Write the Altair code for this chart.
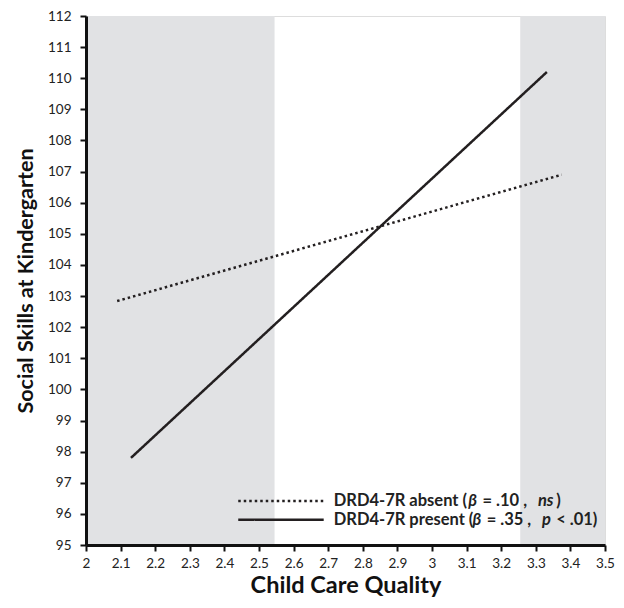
import altair as alt
import pandas as pd

# Data
groups = ["DRD4-7R absent", "DRD4-7R present"]
x_start = [2.09, 2.13]
x_end = [3.375, 3.332]
y_start = [102.84, 97.8]
y_end = [106.9, 110.2]

shade_from = [2.0, 3.255]
shade_to = [2.545, 3.5]

x_ticks = [2.0, 2.1, 2.2, 2.3, 2.4, 2.5, 2.6, 2.7, 2.8, 2.9, 3.0, 3.1, 3.2, 3.3, 3.4, 3.5]
y_ticks = list(range(95, 113))

# legend (drawn inside the plot, bottom right)
legend_y = [96.41, 95.81]
legend_x1 = [2.44, 2.44]
legend_x2 = [2.687, 2.687]

# legend text pieces: (row, text, x position in data units, italic)
seg_row = [0, 0, 0, 0, 0, 1, 1, 1, 1, 1]
seg_text = ["DRD4-7R absent (", "β", "= .10 ,", "ns", ")",
            "DRD4-7R present (", "β", "= .35 ,", "p", "< .01)"]
seg_x = [2.716, 3.105, 3.146, 3.306, 3.359,
         2.716, 3.117, 3.158, 3.318, 3.359]
seg_italic = [False, True, False, True, False,
              False, True, False, True, False]

W, H = 519, 529
FONT = "Lato"
INK = "#231f20"
LEG_FS = 16.5

lines = pd.DataFrame({
    "group": groups * 2,
    "x": x_start + x_end,
    "y": y_start + y_end,
    "order": [0, 0, 1, 1],
})
shade = pd.DataFrame({"x": shade_from, "x2": shade_to, "y": [95, 95], "y2": [112, 112]})
leg = pd.DataFrame({"group": groups, "y": legend_y, "x1": legend_x1, "x2": legend_x2})
segs = pd.DataFrame({
    "text": seg_text,
    "x": seg_x,
    "y": [legend_y[r] for r in seg_row],
    "italic": seg_italic,
})

xs = alt.Scale(domain=[2, 3.5], nice=False, zero=False)
ys = alt.Scale(domain=[95, 112], nice=False, zero=False)

xaxis = alt.Axis(values=x_ticks, format=".1~f", title="Child Care Quality", labelOverlap=False,
                 labelPadding=5, titleFontSize=23.5, titlePadding=4, zindex=1)
yaxis = alt.Axis(values=y_ticks, title="Social Skills at Kindergarten", labelOverlap=False,
                 labelPadding=9, titleFontSize=21.5, titlePadding=10, zindex=1)

dash_scale = alt.Scale(domain=groups, range=[[2.5, 3], [1, 0]])

rects = alt.Chart(shade).mark_rect(color="#e1e2e4").encode(
    x=alt.X("x:Q", scale=xs, axis=xaxis),
    x2="x2:Q",
    y=alt.Y("y:Q", scale=ys, axis=yaxis),
    y2="y2:Q",
)

reg = alt.Chart(lines).mark_line(color=INK, strokeWidth=2.5).encode(
    x=alt.X("x:Q", scale=xs, axis=xaxis),
    y=alt.Y("y:Q", scale=ys, axis=yaxis),
    detail="group:N",
    order="order:Q",
    strokeDash=alt.StrokeDash("group:N", scale=dash_scale, legend=None),
)

leg_lines = alt.Chart(leg).mark_rule(color=INK, strokeWidth=2.5).encode(
    x=alt.X("x1:Q", scale=xs, axis=xaxis),
    x2="x2:Q",
    y=alt.Y("y:Q", scale=ys, axis=yaxis),
    strokeDash=alt.StrokeDash("group:N", scale=dash_scale, legend=None),
)

def seg_layer(italic):
    return alt.Chart(segs).transform_filter(
        alt.datum.italic == italic
    ).mark_text(align="left", baseline="middle", font=FONT, fontSize=LEG_FS,
                fontWeight="bold", fontStyle="italic" if italic else "normal",
                color="#222").encode(
        x=alt.X("x:Q", scale=xs, axis=xaxis),
        y=alt.Y("y:Q", scale=ys, axis=yaxis),
        text="text:N",
    )

chart = alt.layer(rects, reg, leg_lines, seg_layer(False), seg_layer(True)).properties(
    width=W, height=H,
    autosize=alt.AutoSizeParams(type="none"),
    padding={"left": 78, "top": 8, "right": 10, "bottom": 55},
).configure_view(stroke=None).configure(background="white").configure_axis(
    grid=False, labelOverlap=False, labelFlush=False,
    domainColor="#111", domainWidth=3, tickColor="#111", tickWidth=2, tickSize=6,
    labelFont=FONT, labelFontSize=13.5, labelColor="#222",
    titleFont=FONT, titleFontWeight="bold", titleColor="#111",
)

chart.save("out.html", embed_options={"renderer": "svg", "actions": False})
